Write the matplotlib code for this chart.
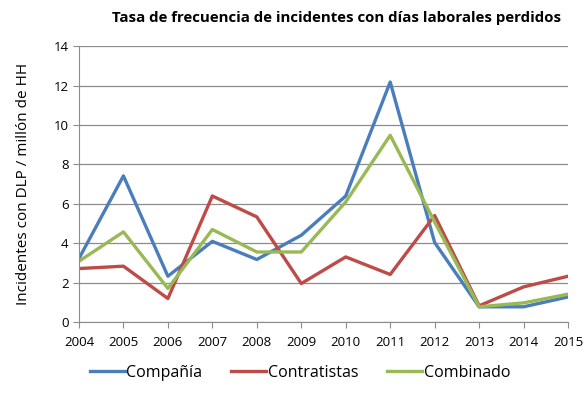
import matplotlib
matplotlib.use("Agg")
from matplotlib import pyplot as plt

years = [2004, 2005, 2006, 2007, 2008, 2009, 2010, 2011, 2012, 2013, 2014, 2015]
compania = [3.23, 7.42, 2.33, 4.10, 3.18, 4.41, 6.40, 12.18, 4.04, 0.78, 0.78, 1.28]
contratistas = [2.72, 2.84, 1.20, 6.40, 5.34, 1.96, 3.31, 2.42, 5.41, 0.83, 1.79, 2.33]
combinado = [3.09, 4.58, 1.71, 4.70, 3.56, 3.56, 6.10, 9.48, 5.08, 0.78, 0.98, 1.42]

plt.rcParams["font.family"] = ["Open Sans", "DejaVu Sans"]

fig = plt.figure(figsize=(5.85, 4.12), dpi=100)
ax = fig.add_axes([0.135, 0.218, 0.836, 0.670])

ax.plot(years, compania, color="#4A7EBB", linewidth=2.4, label="Compañía")
ax.plot(years, contratistas, color="#BE4B48", linewidth=2.4, label="Contratistas")
ax.plot(years, combinado, color="#98B954", linewidth=2.4, label="Combinado")

ax.set_xlim(2004, 2015)
ax.set_ylim(0, 14)
ax.set_xticks(years)
ax.set_yticks(range(0, 15, 2))
ax.yaxis.grid(True, color="#8C8C8C", linewidth=0.9)
ax.set_axisbelow(True)
for side in ["top", "right"]:
    ax.spines[side].set_visible(False)
for side in ["left", "bottom"]:
    ax.spines[side].set_color("#8C8C8C")
ax.tick_params(axis="both", colors="#8C8C8C", labelcolor="black", labelsize=9.5,
               length=4, direction="out")
ax.tick_params(axis="x", pad=6)

ax.set_ylabel("Incidentes con DLP / millón de HH", fontsize=11, labelpad=16)
fig.text(0.575, 0.956, "Tasa de frecuencia de incidentes con días laborales perdidos",
         ha="center", va="center", fontsize=10.8, fontweight="bold")

fig.legend(loc="center", bbox_to_anchor=(0.513, 0.095), ncol=3, frameon=False,
           fontsize=11.5, handlelength=2.2, handletextpad=0.1, columnspacing=1.8)

plt.savefig("out.png", dpi=100)
plt.close()
